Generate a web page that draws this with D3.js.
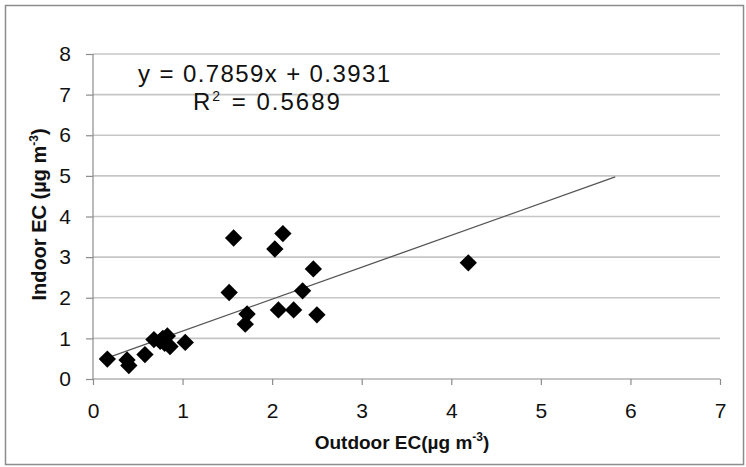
<!DOCTYPE html>
<meta charset="utf-8">
<script src="https://d3js.org/d3.v7.min.js"></script>
<style>
  body { margin: 0; background: #fff; }
  text { font-family: "Liberation Sans", Arial, sans-serif; fill: #111; }
</style>
<div id="chart"></div>
<script>
// outdoor vs indoor EC readings
const outdoorEC = [0.16, 0.38, 0.40, 0.58, 0.68, 0.75, 0.80, 0.83, 0.86, 0.78, 1.03,
                   1.52, 1.57, 1.70, 1.72, 2.03, 2.07, 2.12, 2.24, 2.34, 2.46, 2.50, 4.19];
const indoorEC  = [0.49, 0.47, 0.33, 0.60, 0.97, 0.93, 0.88, 1.06, 0.80, 1.00, 0.90,
                   2.13, 3.47, 1.35, 1.60, 3.20, 1.70, 3.58, 1.70, 2.17, 2.71, 1.58, 2.86];
// linear trend y = 0.7859x + 0.3931, drawn between these x values
const slope = 0.7859, intercept = 0.3931;
const trendX = [0.16, 5.83];
const xTicks = [0, 1, 2, 3, 4, 5, 6, 7];
const yTicks = [0, 1, 2, 3, 4, 5, 6, 7, 8];

const width = 746, height = 467;
const margin = {left: 93, right: 26, top: 54, bottom: 88};

const svg = d3.select("#chart").append("svg")
  .attr("width", width).attr("height", height);

// outer frame
svg.append("rect")
  .attr("x", 5.5).attr("y", 5.5)
  .attr("width", width - 8).attr("height", height - 8)
  .attr("fill", "none").attr("stroke", "#8c8c8c").attr("stroke-width", 1.5);

const x = d3.scaleLinear().domain([0, 7]).range([margin.left, width - margin.right]);
const y = d3.scaleLinear().domain([0, 8]).range([height - margin.bottom, margin.top]);

// horizontal gridlines
svg.append("g")
  .selectAll("line")
  .data(yTicks.filter(d => d > 0))
  .join("line")
    .attr("x1", x(0)).attr("x2", x(7))
    .attr("y1", d => y(d)).attr("y2", d => y(d))
    .attr("stroke", "#c6c6c6").attr("stroke-width", 1.6);

// y axis
const yAxis = svg.append("g")
  .attr("transform", `translate(${x(0)},0)`)
  .call(d3.axisLeft(y).tickValues(yTicks).tickFormat(d3.format("d")).tickSize(7).tickPadding(15));
yAxis.selectAll("path, line").attr("stroke", "#8c8c8c").attr("stroke-width", 1.2);
yAxis.select(".domain").attr("d", `M0,${y(8)}V${y(0)}`);
yAxis.selectAll("text").attr("font-size", 21).attr("font-family", "Liberation Sans, Arial, sans-serif")
  .attr("fill", "#111");

// x axis
const xAxis = svg.append("g")
  .attr("transform", `translate(0,${y(0)})`)
  .call(d3.axisBottom(x).tickValues(xTicks).tickFormat(d3.format("d")).tickSize(6).tickPadding(18));
xAxis.selectAll("path, line").attr("stroke", "#8c8c8c").attr("stroke-width", 1.2);
xAxis.select(".domain").attr("d", `M${x(0)},0H${x(7)}`);
xAxis.selectAll("text").attr("font-size", 21).attr("font-family", "Liberation Sans, Arial, sans-serif")
  .attr("fill", "#111");

// trendline
svg.append("line")
  .attr("x1", x(trendX[0])).attr("y1", y(slope * trendX[0] + intercept))
  .attr("x2", x(trendX[1])).attr("y2", y(slope * trendX[1] + intercept))
  .attr("stroke", "#555").attr("stroke-width", 1.3);

// diamond markers
const diamond = d3.symbol().type(d3.symbolSquare).size(150);
svg.append("g")
  .selectAll("path")
  .data(outdoorEC.map((v, i) => [v, indoorEC[i]]))
  .join("path")
    .attr("d", diamond)
    .attr("transform", d => `translate(${x(d[0])},${y(d[1])}) rotate(45)`)
    .attr("fill", "#000");

// equation and R²
svg.append("text")
  .attr("x", 138).attr("y", 82)
  .attr("font-size", 24)
  .attr("textLength", 252)
  .text("y = 0.7859x + 0.3931");
const r2 = svg.append("text")
  .attr("x", 193).attr("y", 110)
  .attr("font-size", 24)
  .attr("letter-spacing", 2);
r2.append("tspan").text("R");
r2.append("tspan").attr("font-size", 14).attr("dy", -9).text("2");
r2.append("tspan").attr("dy", 9).attr("dx", 1).text(" = 0.5689");

// axis titles
const xt = svg.append("text")
  .attr("x", 402).attr("y", 449)
  .attr("text-anchor", "middle")
  .attr("font-size", 19).attr("font-weight", "bold");
xt.append("tspan").text("Outdoor EC(µg m");
xt.append("tspan").attr("font-size", 12).attr("dy", -8).text("-3");
xt.append("tspan").attr("dy", 8).text(")");

const yt = svg.append("text")
  .attr("transform", `translate(46,${y(4) - 2}) rotate(-90)`)
  .attr("text-anchor", "middle")
  .attr("font-size", 20).attr("font-weight", "bold");
yt.append("tspan").text("Indoor EC (µg m");
yt.append("tspan").attr("font-size", 12).attr("dy", -8).text("-3");
yt.append("tspan").attr("dy", 8).text(")");
</script>
